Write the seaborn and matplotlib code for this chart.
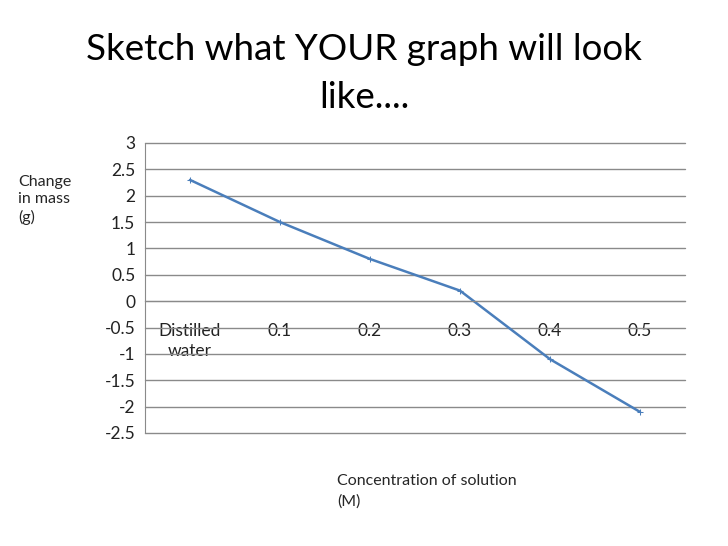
import numpy as np
import pandas as pd
import matplotlib
matplotlib.use("Agg")
import matplotlib.pyplot as plt
import seaborn as sns

categories = ["Distilled\nwater", "0.1", "0.2", "0.3", "0.4", "0.5"]
mass_change = [2.3, 1.5, 0.8, 0.2, -1.1, -2.1]
y_ticks = [3, 2.5, 2, 1.5, 1, 0.5, 0, -0.5, -1, -1.5, -2, -2.5]

sns.set_style("white")
plt.rcParams["font.family"] = ["Lato", "DejaVu Sans"]

df = pd.DataFrame({"pos": np.arange(len(categories)), "mass": mass_change})

fig = plt.figure(figsize=(7.28, 5.46), dpi=100)
ax = fig.add_axes([145 / 728, 1 - 433 / 546, 540 / 728, 290 / 546])

sns.lineplot(data=df, x="pos", y="mass", ax=ax, color="#4A7EBB", linewidth=1.8,
             marker="+", markersize=4, markeredgecolor="#4A7EBB", sort=False)

ax.set_xlim(-0.5, len(categories) - 0.5)
ax.set_ylim(-2.5, 3)
ax.set_yticks(y_ticks)
ax.set_yticklabels([f"{v:g}" for v in y_ticks], fontsize=12.5, color="#222222")
ax.yaxis.grid(True, color="#8a8a8a", linewidth=1)
for gl in ax.yaxis.get_gridlines():
    gl.set_clip_on(False)
ax.set_axisbelow(True)
ax.tick_params(axis="y", length=4, color="#8a8a8a", direction="out", pad=3)

ax.spines["top"].set_visible(False)
ax.spines["right"].set_visible(False)
ax.spines["left"].set_color("#8a8a8a")
ax.spines["bottom"].set_position(("data", 0))
ax.spines["bottom"].set_color("#8a8a8a")

ax.set_xticks(np.arange(len(categories)))
ax.set_xticklabels(categories, fontsize=12.5, color="#222222", linespacing=1.3)
ax.set_xticks(np.arange(len(categories)) + 0.5, minor=True)
ax.tick_params(axis="x", which="major", length=0, pad=16)
ax.tick_params(axis="x", which="minor", length=5, color="#8a8a8a", direction="out")

ax.set_xlabel("")
ax.set_ylabel("")

fig.text(0.5, 1 - 33 / 546, "Sketch what YOUR graph will look\nlike....", ha="center", va="top",
         fontsize=26.5, linespacing=1.55, color="black")
fig.text(18 / 728, 1 - 175 / 546, "Change\nin mass\n(g)", ha="left", va="top",
         fontsize=11.5, linespacing=1.3)
fig.text(337 / 728, 1 - 474 / 546, "Concentration of solution\n(M)", ha="left", va="top",
         fontsize=11.5, linespacing=1.55)

fig.savefig("out.png", dpi=100)
